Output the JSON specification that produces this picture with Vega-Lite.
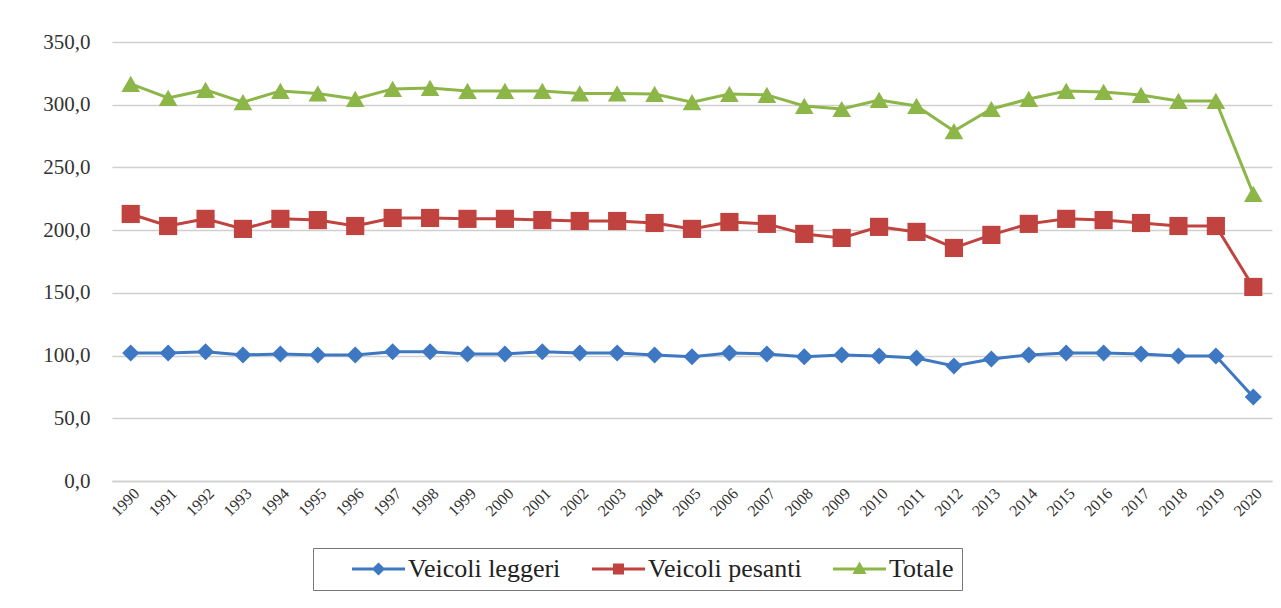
{
  "$schema": "https://vega.github.io/schema/vega-lite/v6.json",
  "width": 1160,
  "height": 439,
  "autosize": "none",
  "padding": {"left": 112, "top": 42, "right": 9, "bottom": 127},
  "background": "white",
  "config": {
    "locale": {"number": {"decimal": ",", "thousands": ".", "grouping": [3], "currency": ["€", ""]}},
    "view": {"stroke": null},
    "font": "Liberation Serif"
  },
  "data": {"values": [
    {"anno":"1990","serie":"Veicoli leggeri","valore":102},
    {"anno":"1991","serie":"Veicoli leggeri","valore":102},
    {"anno":"1992","serie":"Veicoli leggeri","valore":103},
    {"anno":"1993","serie":"Veicoli leggeri","valore":100.5},
    {"anno":"1994","serie":"Veicoli leggeri","valore":101.3},
    {"anno":"1995","serie":"Veicoli leggeri","valore":100.5},
    {"anno":"1996","serie":"Veicoli leggeri","valore":100.5},
    {"anno":"1997","serie":"Veicoli leggeri","valore":103},
    {"anno":"1998","serie":"Veicoli leggeri","valore":103},
    {"anno":"1999","serie":"Veicoli leggeri","valore":101.3},
    {"anno":"2000","serie":"Veicoli leggeri","valore":101.3},
    {"anno":"2001","serie":"Veicoli leggeri","valore":103},
    {"anno":"2002","serie":"Veicoli leggeri","valore":102},
    {"anno":"2003","serie":"Veicoli leggeri","valore":102},
    {"anno":"2004","serie":"Veicoli leggeri","valore":100.5},
    {"anno":"2005","serie":"Veicoli leggeri","valore":99},
    {"anno":"2006","serie":"Veicoli leggeri","valore":102},
    {"anno":"2007","serie":"Veicoli leggeri","valore":101.3},
    {"anno":"2008","serie":"Veicoli leggeri","valore":99},
    {"anno":"2009","serie":"Veicoli leggeri","valore":100.5},
    {"anno":"2010","serie":"Veicoli leggeri","valore":99.7},
    {"anno":"2011","serie":"Veicoli leggeri","valore":98},
    {"anno":"2012","serie":"Veicoli leggeri","valore":91.7},
    {"anno":"2013","serie":"Veicoli leggeri","valore":97.3},
    {"anno":"2014","serie":"Veicoli leggeri","valore":100.5},
    {"anno":"2015","serie":"Veicoli leggeri","valore":102},
    {"anno":"2016","serie":"Veicoli leggeri","valore":102},
    {"anno":"2017","serie":"Veicoli leggeri","valore":101.3},
    {"anno":"2018","serie":"Veicoli leggeri","valore":99.7},
    {"anno":"2019","serie":"Veicoli leggeri","valore":99.7},
    {"anno":"2020","serie":"Veicoli leggeri","valore":67},
    {"anno":"1990","serie":"Veicoli pesanti","valore":212.9},
    {"anno":"1991","serie":"Veicoli pesanti","valore":203.3},
    {"anno":"1992","serie":"Veicoli pesanti","valore":209},
    {"anno":"1993","serie":"Veicoli pesanti","valore":201},
    {"anno":"1994","serie":"Veicoli pesanti","valore":209},
    {"anno":"1995","serie":"Veicoli pesanti","valore":208},
    {"anno":"1996","serie":"Veicoli pesanti","valore":203.3},
    {"anno":"1997","serie":"Veicoli pesanti","valore":209.7},
    {"anno":"1998","serie":"Veicoli pesanti","valore":209.7},
    {"anno":"1999","serie":"Veicoli pesanti","valore":209},
    {"anno":"2000","serie":"Veicoli pesanti","valore":209},
    {"anno":"2001","serie":"Veicoli pesanti","valore":208},
    {"anno":"2002","serie":"Veicoli pesanti","valore":207.3},
    {"anno":"2003","serie":"Veicoli pesanti","valore":207.3},
    {"anno":"2004","serie":"Veicoli pesanti","valore":205.7},
    {"anno":"2005","serie":"Veicoli pesanti","valore":201},
    {"anno":"2006","serie":"Veicoli pesanti","valore":206.5},
    {"anno":"2007","serie":"Veicoli pesanti","valore":205},
    {"anno":"2008","serie":"Veicoli pesanti","valore":197},
    {"anno":"2009","serie":"Veicoli pesanti","valore":193.8},
    {"anno":"2010","serie":"Veicoli pesanti","valore":202.6},
    {"anno":"2011","serie":"Veicoli pesanti","valore":198.6},
    {"anno":"2012","serie":"Veicoli pesanti","valore":185.8},
    {"anno":"2013","serie":"Veicoli pesanti","valore":196.2},
    {"anno":"2014","serie":"Veicoli pesanti","valore":205},
    {"anno":"2015","serie":"Veicoli pesanti","valore":209},
    {"anno":"2016","serie":"Veicoli pesanti","valore":208},
    {"anno":"2017","serie":"Veicoli pesanti","valore":205.7},
    {"anno":"2018","serie":"Veicoli pesanti","valore":203.3},
    {"anno":"2019","serie":"Veicoli pesanti","valore":203.3},
    {"anno":"2020","serie":"Veicoli pesanti","valore":154.7},
    {"anno":"1990","serie":"Totale","valore":316.6},
    {"anno":"1991","serie":"Totale","valore":305.4},
    {"anno":"1992","serie":"Totale","valore":311.8},
    {"anno":"1993","serie":"Totale","valore":302},
    {"anno":"1994","serie":"Totale","valore":311},
    {"anno":"1995","serie":"Totale","valore":309},
    {"anno":"1996","serie":"Totale","valore":304.6},
    {"anno":"1997","serie":"Totale","valore":312.6},
    {"anno":"1998","serie":"Totale","valore":313.4},
    {"anno":"1999","serie":"Totale","valore":311},
    {"anno":"2000","serie":"Totale","valore":311},
    {"anno":"2001","serie":"Totale","valore":311},
    {"anno":"2002","serie":"Totale","valore":309},
    {"anno":"2003","serie":"Totale","valore":309},
    {"anno":"2004","serie":"Totale","valore":308.6},
    {"anno":"2005","serie":"Totale","valore":302},
    {"anno":"2006","serie":"Totale","valore":308.6},
    {"anno":"2007","serie":"Totale","valore":307.8},
    {"anno":"2008","serie":"Totale","valore":299},
    {"anno":"2009","serie":"Totale","valore":296.6},
    {"anno":"2010","serie":"Totale","valore":303.8},
    {"anno":"2011","serie":"Totale","valore":299},
    {"anno":"2012","serie":"Totale","valore":279},
    {"anno":"2013","serie":"Totale","valore":296.6},
    {"anno":"2014","serie":"Totale","valore":304.6},
    {"anno":"2015","serie":"Totale","valore":311},
    {"anno":"2016","serie":"Totale","valore":310.2},
    {"anno":"2017","serie":"Totale","valore":307.8},
    {"anno":"2018","serie":"Totale","valore":303},
    {"anno":"2019","serie":"Totale","valore":303},
    {"anno":"2020","serie":"Totale","valore":228.9}
  ]},
  "encoding": {
    "x": {
      "field": "anno", "type": "ordinal",
      "scale": {"type": "point", "padding": 0.5},
      "axis": {
        "title": null, "labelAngle": -45, "labelFont": "Liberation Serif", "labelFontSize": 16,
        "labelColor": "#333333", "ticks": false, "tickSize": 0, "domain": true,
        "domainColor": "#cfcfcf", "domainWidth": 1.5, "grid": false, "labelPadding": 4
      }
    },
    "y": {
      "field": "valore", "type": "quantitative",
      "scale": {"domain": [0, 350], "nice": false, "zero": true},
      "axis": {
        "title": null, "values": [0, 50, 100, 150, 200, 250, 300, 350], "format": ".1f",
        "grid": true, "gridColor": "#d0d0d0", "gridWidth": 1.5, "domain": false,
        "ticks": false, "tickSize": 0, "labelFont": "Liberation Serif", "labelFontSize": 21,
        "labelColor": "#333333", "labelPadding": 22
      }
    }
  },
  "layer": [
    {
      "mark": {"type": "line", "strokeWidth": 3},
      "encoding": {
        "color": {
          "field": "serie", "type": "nominal",
          "scale": {"domain": ["Veicoli leggeri", "Veicoli pesanti", "Totale"], "range": ["#3E78C2", "#C0433F", "#8DB649"]},
          "legend": {
            "orient": "none", "legendX": 201, "legendY": 506, "direction": "horizontal", "title": null,
            "labelFont": "Liberation Serif", "labelFontSize": 26, "labelColor": "#222222",
            "strokeColor": "#777777", "padding": 8, "symbolSize": 400, "labelOffset": 61,
            "columnPadding": -8, "symbolStrokeWidth": 3, "symbolOpacity": 1,
            "symbolType": {"expr": "datum.value === 'Veicoli leggeri' ? 'M1.8,0H7.1M4.45,-0.45L4.9,0L4.45,0.45L4,0Z' : datum.value === 'Veicoli pesanti' ? 'M1.8,0H7.1M4.05,-0.4H4.85V0.4H4.05Z' : 'M1.8,0H7.1M4.45,-0.45L4.9,0.35H4Z'"},
            "symbolFillColor": {"expr": "scale('color', datum.value)"}
          }
        }
      }
    },
    {
      "transform": [{"filter": "datum.serie === 'Veicoli leggeri'"}],
      "mark": {"type": "point", "filled": true, "opacity": 1, "shape": "diamond", "size": 290, "color": "#3E78C2"}
    },
    {
      "transform": [{"filter": "datum.serie === 'Veicoli pesanti'"}],
      "mark": {"type": "point", "filled": true, "opacity": 1, "shape": "square", "size": 330, "color": "#C0433F"}
    },
    {
      "transform": [{"filter": "datum.serie === 'Totale'"}],
      "mark": {"type": "point", "filled": true, "opacity": 1, "shape": "triangle-up", "size": 350, "color": "#8DB649"}
    }
  ]
}
